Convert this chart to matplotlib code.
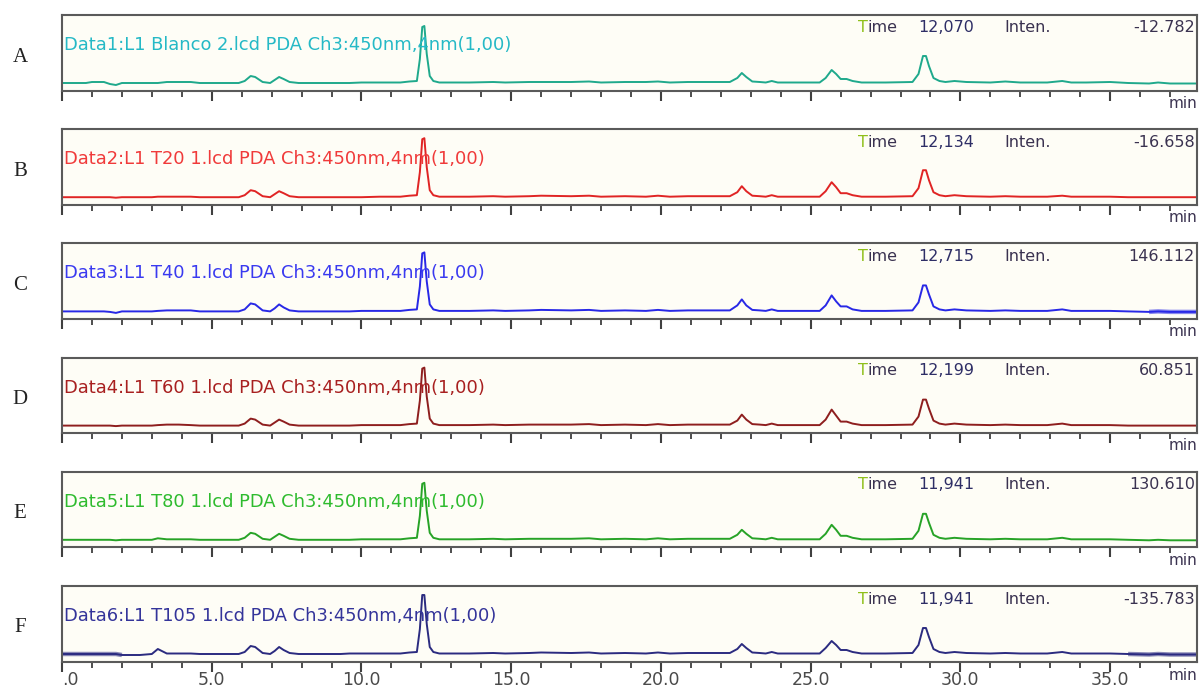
import matplotlib
matplotlib.use("Agg")
import matplotlib.pyplot as plt
from matplotlib.ticker import MultipleLocator, FixedLocator

# ---------------- data ----------------
panel_letters = ["A", "B", "C", "D", "E", "F"]
titles = [
    "Data1:L1 Blanco 2.lcd PDA Ch3:450nm,4nm(1,00)",
    "Data2:L1 T20 1.lcd PDA Ch3:450nm,4nm(1,00)",
    "Data3:L1 T40 1.lcd PDA Ch3:450nm,4nm(1,00)",
    "Data4:L1 T60 1.lcd PDA Ch3:450nm,4nm(1,00)",
    "Data5:L1 T80 1.lcd PDA Ch3:450nm,4nm(1,00)",
    "Data6:L1 T105 1.lcd PDA Ch3:450nm,4nm(1,00)",
]
cursor_times = ["12,070", "12,134", "12,715", "12,199", "11,941", "11,941"]
cursor_intens = ["-12.782", "-16.658", "146.112", "60.851", "130.610", "-135.783"]
line_colors = ["#1fa98c", "#e02424", "#2828e6", "#8e1e1e", "#27a327", "#2b2b80"]
title_colors = ["#25b9c6", "#f03a3a", "#3a3af0", "#a82020", "#2ebb2e", "#34349a"]

tick_values = [0, 5, 10, 15, 20, 25, 30, 35]
tick_labels = [".0", "5.0", "10.0", "15.0", "20.0", "25.0", "30.0", "35.0"]

# retention time vertices (min)
times = [0.0, 0.8, 1.0, 1.4, 1.6, 1.8, 2.0, 2.6, 3.0, 3.2, 3.5, 3.9, 4.3, 4.6,
         5.4, 5.9, 6.1, 6.3, 6.45, 6.7, 6.95, 7.1, 7.25, 7.4, 7.6, 7.9, 8.6,
         9.3, 9.6, 10.0, 10.6, 11.3, 11.6, 11.85, 11.95, 12.03, 12.1, 12.18,
         12.28, 12.4, 12.6, 13.2, 13.6, 14.4, 14.8, 15.6, 16.0, 17.0, 17.6,
         18.0, 18.8, 19.5, 19.9, 20.3, 20.9, 21.6, 22.3, 22.55, 22.7, 22.85,
         23.05, 23.3, 23.5, 23.7, 23.9, 24.6, 25.3, 25.5, 25.7, 25.85, 26.0,
         26.2, 26.4, 26.7, 27.5, 28.4, 28.6, 28.75, 28.85, 28.95, 29.1, 29.3,
         29.5, 29.8, 30.2, 31.0, 31.5, 32.0, 32.9, 33.4, 33.7, 34.2, 35.0,
         35.6, 36.3, 36.6, 37.0, 37.9]

# detector signal (relative intensity)
A_vals = [1, 1, 2, 2, 0, -1, 1, 1, 1, 1, 2, 2, 2, 1,
          1, 1, 3, 8, 7, 2, 1, 4, 7, 5, 2, 1, 1,
          1, 1, 1.5, 1.5, 1.5, 2.5, 3, 25, 57, 58, 30,
          8, 3, 1.5, 1.5, 1.5, 2, 1.5, 2, 2, 2, 2.5,
          1.5, 2, 2, 2.5, 1.5, 2, 2, 2, 6, 11, 7,
          2.5, 2, 1.5, 3, 1.5, 1.5, 1.5, 6, 14, 10, 5,
          5, 3, 1.5, 1.5, 2, 10, 28, 28, 18, 6, 3,
          2, 3, 2, 1.5, 2.5, 1.5, 1.5, 3, 1.5, 1.5, 2,
          1, 0.5, 1.5, 0.5, 0.5]
B_vals = [1, 1, 1, 1, 1, 0.5, 1, 1, 1, 1.5, 1.5, 1.5, 1.5, 1,
          1, 1, 3, 8, 7, 2, 1, 4, 7, 5, 2, 1, 1,
          1, 1, 1, 1.5, 1.5, 2.5, 3, 26, 59, 60, 31,
          8, 3, 1.5, 1.5, 1.5, 2, 1.5, 2, 2.5, 2, 2.5,
          1.5, 2, 1.5, 2.5, 1.5, 2, 2, 2, 6, 12, 7,
          2.5, 2, 1.5, 3, 1.5, 1.5, 1.5, 7, 16, 11, 5,
          5, 3, 1.5, 1.5, 2, 10, 28, 28, 18, 6, 3,
          2, 3, 2, 1.5, 2, 1.5, 1.5, 2.5, 1.5, 1.5, 1.5,
          1, 1, 1, 1, 1]
C_vals = [1, 1, 1, 1, 0.5, -0.5, 1, 1, 1, 1.5, 2, 2, 2, 1,
          1, 1, 3, 9, 8, 2, 1, 4, 8, 5, 2, 1, 1,
          1, 1, 1.5, 1.5, 1.5, 2.5, 3, 26, 59, 60, 31,
          8, 3, 1.5, 1.5, 1.5, 2, 1.5, 2, 2.5, 2, 2.5,
          1.5, 2, 1.5, 2.5, 1.5, 2, 2, 2, 7, 13, 7,
          2.5, 2, 1.5, 3, 1.5, 1.5, 1.5, 7, 17, 11, 6,
          6, 3, 1.5, 1.5, 2, 10, 27, 27, 18, 6, 3,
          2, 3, 2, 1.5, 2, 1.5, 1.5, 3, 1.5, 1.5, 1.5,
          1, 0.5, 1, 0.5, 0.5]
D_vals = [1, 1, 1, 1, 1, 0.5, 1, 1, 1, 1.5, 2, 2, 1.5, 1,
          1, 1, 3, 8, 7, 2, 1, 4, 7, 5, 2, 1, 1,
          1, 1, 1.5, 1.5, 1.5, 2.5, 3, 26, 58, 59, 30,
          8, 3, 1.5, 1.5, 1.5, 2, 1.5, 2, 2, 2, 2.5,
          1.5, 2, 1.5, 2.5, 1.5, 2, 2, 2, 6, 12, 7,
          2.5, 2, 1.5, 3, 1.5, 1.5, 1.5, 7, 17, 11, 5,
          5, 3, 1.5, 1.5, 2, 10, 27, 27, 18, 6, 3,
          2, 3, 2, 1.5, 2, 1.5, 1.5, 3, 1.5, 1.5, 1.5,
          1, 1, 1, 1, 1]
E_vals = [1, 1, 1, 1, 1, 0.5, 1, 1, 1, 2.5, 1.5, 1.5, 1.5, 1,
          1, 1, 3, 8, 7, 2, 1, 4, 7, 5, 2, 1, 1,
          1, 1, 1.5, 1.5, 1.5, 2.5, 3, 25, 57, 58, 30,
          8, 3, 1.5, 1.5, 1.5, 2, 1.5, 2, 2, 2, 2.5,
          1.5, 2, 1.5, 2.5, 1.5, 2, 2, 2, 6, 11, 7,
          2.5, 2, 1.5, 3, 1.5, 1.5, 1.5, 7, 16, 11, 5,
          5, 3, 1.5, 1.5, 2, 10, 27, 27, 18, 6, 3,
          2, 3, 2, 1.5, 2, 1.5, 1.5, 3, 1.5, 1.5, 1.5,
          1, 0.5, 1, 0.5, 0.5]
F_vals = [1, 1, 1, 1, 1, 1, 0, 0, 1, 6, 1.5, 1.5, 1.5, 1,
          1, 1, 3, 9, 8, 2, 1, 4, 8, 5, 2, 1, 1,
          1, 1.5, 1.5, 1.5, 1.5, 2.5, 3, 26, 60, 60, 31,
          8, 3, 1.5, 1.5, 1.5, 2, 1.5, 2, 2.5, 2, 2.5,
          1.5, 2, 1.5, 2.5, 1.5, 2, 2, 2, 6, 11, 7,
          2.5, 2, 1.5, 3, 1.5, 1.5, 1.5, 7, 14, 10, 5,
          5, 3, 1.5, 1.5, 2, 10, 27, 27, 18, 6, 3,
          2, 3, 2, 1.5, 2, 1.5, 1.5, 3, 1.5, 1.5, 1.5,
          1, 0.5, 1, 0.5, 0.5]
all_vals = [A_vals, B_vals, C_vals, D_vals, E_vals, F_vals]

# highlighted (thick) trace stretches per panel, in minutes
highlight_ranges = [[], [], [(36.3, 37.9)], [], [], [(0.0, 2.0), (35.6, 37.9)]]

# ---------------- layout ----------------
W, H = 1204, 689
fig = plt.figure(figsize=(W / 100, H / 100), dpi=100)
fig.patch.set_facecolor("white")

left_px, right_px = 62, 1197
panel_h = 75.5
step = 114.2
first_top = 15
xmax = 37.9

text_dark = "#3a3250"
FONT = "DejaVu Sans"


def fx(px):
    return (px - left_px) / (right_px - left_px)


for i in range(6):
    top = first_top + step * i
    bottom = top + panel_h
    ax = fig.add_axes([left_px / W, 1 - bottom / H, (right_px - left_px) / W, panel_h / H])
    ax.set_facecolor("#fefdf6")
    ax.plot(times, all_vals[i], color=line_colors[i], lw=1.4, solid_joinstyle="round")
    for (t0, t1) in highlight_ranges[i]:
        sel_t = [t for t in times if t0 <= t <= t1]
        sel_v = [v for t, v in zip(times, all_vals[i]) if t0 <= t <= t1]
        ax.plot(sel_t, sel_v, color=line_colors[i], lw=3.2, alpha=0.55,
                solid_capstyle="butt")
    ax.set_xlim(0, xmax)
    ax.set_ylim(-6.5, 69)
    ax.set_yticks([])
    for s in ax.spines.values():
        s.set_color("#5a5a5a")
        s.set_linewidth(1.5)
    ax.xaxis.set_major_locator(FixedLocator(tick_values))
    ax.xaxis.set_minor_locator(MultipleLocator(1))
    ax.tick_params(axis="x", which="major", direction="out", length=7, width=1.5,
                   color="#404040", labelsize=12.5, labelcolor="#4a4a4a", pad=0)
    ax.tick_params(axis="x", which="minor", direction="out", length=4, width=1.3,
                   color="#404040")
    if i == 5:
        ax.set_xticklabels(tick_labels, fontfamily=FONT)
        ax.get_xticklabels()[0].set_horizontalalignment("left")
        ax.text(1.0, -0.19, "min", transform=ax.transAxes, ha="right", va="center",
                fontsize=11, color=text_dark, family=FONT)
    else:
        ax.set_xticklabels([])
        ax.text(1.0, -0.17, "min", transform=ax.transAxes, ha="right", va="center",
                fontsize=11, color=text_dark, family=FONT)

    # panel letter
    fig.text(20 / W, 1 - (top + 42) / H, panel_letters[i], fontsize=15,
             family="Liberation Serif", color="#222222", ha="center", va="center")

    # file title
    ax.text(fx(64), 1 - 30 / panel_h, titles[i], transform=ax.transAxes,
            ha="left", va="center", fontsize=12.9, color=title_colors[i],
            family=FONT)

    # cursor readout
    yr = 1 - 13 / panel_h
    t_art = ax.text(fx(858), yr, "T", transform=ax.transAxes, ha="left",
                    va="center", fontsize=11.5, color="#8fbf1a", family=FONT)
    ax.annotate("ime", xy=(1, 0.5), xycoords=t_art, ha="left", va="center",
                fontsize=11.5, color=text_dark, family=FONT)
    ax.text(fx(918), yr, cursor_times[i], transform=ax.transAxes, ha="left",
            va="center", fontsize=11.5, color="#2e2e66", family=FONT)
    ax.text(fx(1004), yr, "Inten.", transform=ax.transAxes, ha="left",
            va="center", fontsize=11.5, color=text_dark, family=FONT)
    ax.text(fx(1195), yr, cursor_intens[i], transform=ax.transAxes, ha="right",
            va="center", fontsize=11.5, color=text_dark, family=FONT)

fig.savefig("out.png", dpi=100)
